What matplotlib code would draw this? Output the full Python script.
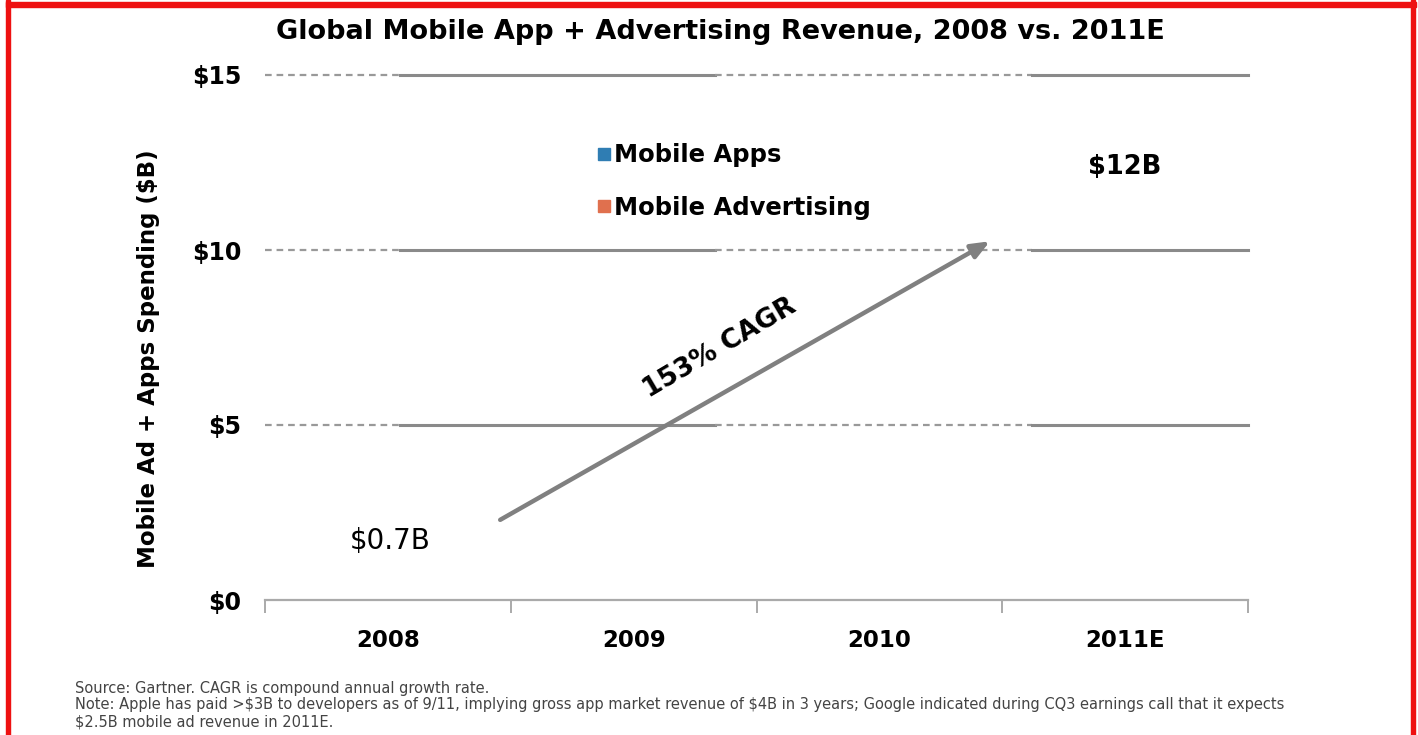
import matplotlib.pyplot as plt
from matplotlib.patches import Rectangle

years = ['2008', '2009', '2010', '2011E']
totals = {'2008': 0.7, '2011E': 12.0}
total_labels = ['$0.7B', '$12B']
y_ticks = [0, 5, 10, 15]
y_tick_labels = ['$0', '$5', '$10', '$15']
series = ['Mobile Apps', 'Mobile Advertising']
series_colors = ['#2f7db3', '#e0704e']
cagr_text = '153% CAGR'

footnotes = [
    'Source: Gartner. CAGR is compound annual growth rate.',
    r'Note: Apple has paid >\$3B to developers as of 9/11, implying gross app market revenue of \$4B in 3 years; '
    'Google indicated during CQ3 earnings call that it expects',
    r'\$2.5B mobile ad revenue in 2011E.',
]

plt.rcParams['font.family'] = ['DejaVu Sans']

fig = plt.figure(figsize=(14.18, 7.35), dpi=100)
ax = fig.add_axes([265 / 1418, 1 - 600 / 735, 983 / 1418, 525 / 735])

x = list(range(len(years)))
ax.set_xlim(-0.5, len(years) - 0.5)
ax.set_ylim(0, 15)

# gridlines: dashed / solid pieces along each level
breaks = [-0.5, 0.05, 1.33, 2.62, 3.5]
for lvl in y_ticks[1:]:
    for i in range(len(breaks) - 1):
        if i % 2 == 0:
            ax.plot([breaks[i], breaks[i + 1]], [lvl, lvl], color='#999999', lw=1.6,
                    ls=(0, (3, 2.2)), zorder=1, clip_on=False)
        else:
            ax.plot([breaks[i], breaks[i + 1]], [lvl, lvl], color='#8a8a8a', lw=2.2,
                    zorder=1, clip_on=False)

for s in ['top', 'right', 'left']:
    ax.spines[s].set_visible(False)
ax.spines['bottom'].set_color('#aaaaaa')
ax.spines['bottom'].set_linewidth(1.6)

ax.set_yticks(y_ticks)
ax.set_yticklabels(y_tick_labels, fontsize=17, fontweight='bold')
ax.tick_params(axis='y', length=0, pad=17)
ax.set_xticks(x)
ax.set_xticklabels(years, fontsize=16.5, fontweight='bold')
ax.set_xticks([i - 0.5 for i in range(len(years) + 1)], minor=True)
ax.tick_params(axis='x', which='major', length=0, pad=21)
ax.tick_params(axis='x', which='minor', length=9, width=1.4, color='#aaaaaa')

ax.set_ylabel('Mobile Ad + Apps Spending ($B)', fontsize=16.5, fontweight='bold')
ax.yaxis.set_label_coords(-0.107, 0.459)

# value labels
ax.annotate(total_labels[0], (years.index('2008'), totals['2008']), xytext=(1.5, 25),
            textcoords='offset points', ha='center', va='center', fontsize=20)
ax.annotate(total_labels[1], (years.index('2011E'), totals['2011E']), xytext=(0, 9.5),
            textcoords='offset points', ha='center', va='center', fontsize=18.5, fontweight='bold')

# growth arrow
ax.annotate('', xy=(2.45, 10.25), xytext=(0.457, 2.29),
            arrowprops=dict(arrowstyle='-|>,head_length=1.1,head_width=0.45', color='#808080',
                            lw=3.2, shrinkA=0, shrinkB=0))
ax.text(1.35, 7.2, cagr_text, rotation=30.5, ha='center', va='center',
        fontsize=19, fontweight='bold', rotation_mode='anchor')

# legend
handles = [plt.Line2D([], [], marker='s', ls='', color=c, markersize=9) for c in series_colors]
leg = ax.legend(handles, series, loc='upper left', bbox_to_anchor=(0.314, 0.912), frameon=False,
                prop={'size': 17.5, 'weight': 'bold'}, handletextpad=0.05, handlelength=0.7,
                labelspacing=1.18)

fig.text(0.508, 1 - 32 / 735, 'Global Mobile App + Advertising Revenue, 2008 vs. 2011E',
         ha='center', va='center', fontsize=19.5, fontweight='bold')

for i, line in enumerate(footnotes):
    fig.text(75 / 1418, 1 - (688 + 17 * i) / 735, line, ha='left', va='center',
             fontsize=10.5, color='#444444')

# red frame on left, top and right
for rx, ry, rw, rh in [(6, 0, 4, 735), (6, 2, 1410, 5), (1411, 0, 4, 735)]:
    fig.patches.append(Rectangle((rx / 1418, 1 - (ry + rh) / 735), rw / 1418, rh / 735,
                                 transform=fig.transFigure, color='#ee1111', zorder=10))

fig.savefig('out.png', dpi=100)
